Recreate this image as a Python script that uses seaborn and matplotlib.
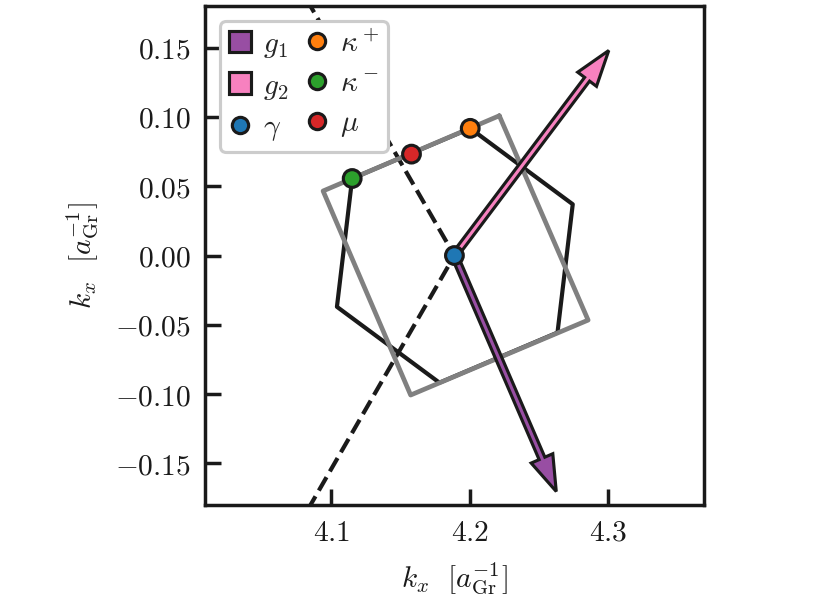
import numpy as np
import pandas as pd
import matplotlib
matplotlib.use("Agg")
import matplotlib.pyplot as plt
import seaborn as sns
from matplotlib.patches import Patch
from matplotlib.lines import Line2D

# graphene K point and view window
k_point = 4.1888
half_width = 0.18

# moire hexagon (black)
hex_x = [4.2002, 4.2742, 4.2632, 4.1780, 4.1040, 4.1150, 4.2002]
hex_y = [0.0918, 0.0370, -0.0556, -0.0918, -0.0370, 0.0556, 0.0918]

# rectangle (gray)
rect_x = [4.2212, 4.2853, 4.1572, 4.0940, 4.2212]
rect_y = [0.1009, -0.0466, -0.1007, 0.0466, 0.1009]

# graphene BZ edge through K (dashed)
bz_x = [4.0734, 4.1888, 4.0734]
bz_y = [0.20, 0.0, -0.20]

# high symmetry points
pt_names = [r"$\gamma$", r"$\kappa^+$", r"$\kappa^-$", r"$\mu$"]
pt_x = [4.1888, 4.2002, 4.1150, 4.1578]
pt_y = [0.0, 0.0918, 0.0556, 0.0732]
pt_colors = ["#1f77b4", "#ff7f0e", "#2ca02c", "#d62728"]

# reciprocal vectors from gamma
g1 = (0.0735, -0.1703)
g2 = (0.1114, 0.1480)
g_colors = ["#984ea3", "#f781bf"]

xticks = [4.1, 4.2, 4.3]
yticks = [-0.15, -0.10, -0.05, 0.00, 0.05, 0.10, 0.15]

sns.set_theme(style="ticks")
plt.rcParams["font.family"] = ["DejaVu Serif"]
plt.rcParams["mathtext.fontset"] = "cm"
plt.rcParams["font.size"] = 8.5

fig = plt.figure(figsize=(3.32, 2.46), dpi=250)
ax = fig.add_axes([0.247, 0.179, 0.601, 0.811])

sns.lineplot(x=bz_x, y=bz_y, sort=False, estimator=None, color="k", lw=1.2,
             linestyle="--", ax=ax)
sns.lineplot(x=hex_x, y=hex_y, sort=False, estimator=None, color="k", lw=1.2, ax=ax)
sns.lineplot(x=rect_x, y=rect_y, sort=False, estimator=None, color="gray", lw=1.35, ax=ax)

gx, gy = pt_x[0], pt_y[0]
for g, c in zip([g1, g2], g_colors):
    ax.arrow(gx, gy, g[0], g[1], width=0.0045, head_width=0.017, head_length=0.026,
             length_includes_head=True, fc=c, ec="k", lw=0.9, zorder=3)

pts = pd.DataFrame({"x": pt_x, "y": pt_y, "name": pt_names})
sns.scatterplot(data=pts, x="x", y="y", hue="name", palette=dict(zip(pt_names, pt_colors)),
                s=26, edgecolor="k", linewidth=0.9, legend=False, zorder=4, ax=ax)

ax.set_xlim(k_point - half_width, k_point + half_width)
ax.set_ylim(-half_width, half_width)
ax.set_aspect("equal")
ax.set_xticks(xticks)
ax.set_xticklabels([f"${v:.1f}$" for v in xticks])
ax.set_yticks(yticks)
ax.set_yticklabels([f"${v:.2f}$" for v in yticks])
ax.tick_params(direction="in", length=4.5, width=1.0, color="k", labelcolor="k",
               labelsize=8.5, pad=4)
for s in ax.spines.values():
    s.set_linewidth(1.0)
    s.set_color("k")
ax.set_xlabel(r"$k_x\ \ [a_{\rm Gr}^{-1}]$", fontsize=8.5, color="k")
ax.set_ylabel(r"$k_x\ \ [a_{\rm Gr}^{-1}]$", fontsize=8.5, color="k")

handles = [Patch(fc=g_colors[0], ec="k", lw=0.9), Patch(fc=g_colors[1], ec="k", lw=0.9)]
handles += [Line2D([], [], ls="", marker="o", ms=4.7, mfc=c, mec="k", mew=0.9) for c in pt_colors]
labels = [r"$g_1$", r"$g_2$"] + pt_names
leg = ax.legend(handles, labels, ncol=2, loc="upper left", framealpha=1, edgecolor="0.8",
                handlelength=0.75, handleheight=0.75, handletextpad=0.4, columnspacing=0.6,
                labelspacing=0.4, borderpad=0.3, fontsize=8.5)
leg.get_frame().set_linewidth(0.9)

fig.savefig("out.png", dpi=250)
